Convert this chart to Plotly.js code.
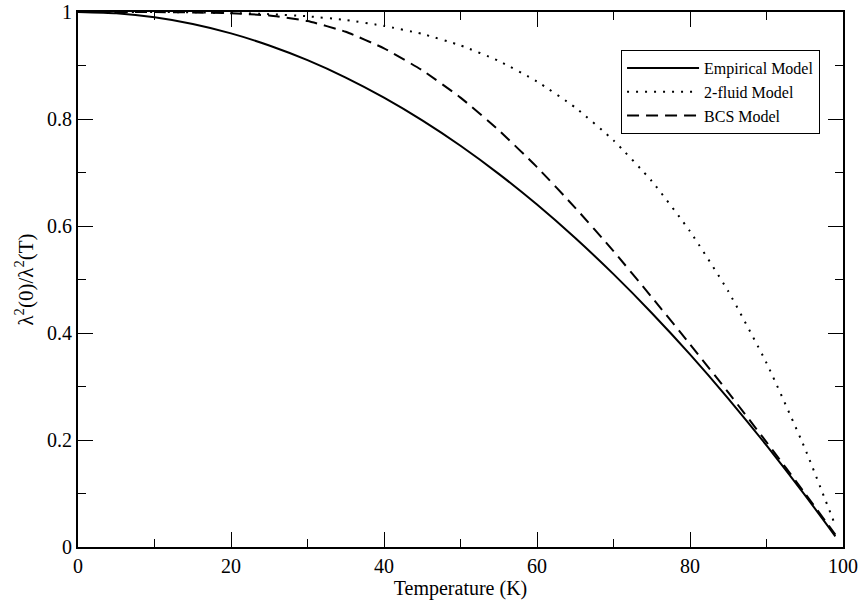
<!DOCTYPE html>
<html>
<head>
<meta charset="utf-8">
<script src="https://cdn.plot.ly/plotly-3.0.1.min.js"></script>
<style>html,body{margin:0;padding:0;background:#fff;}#chart{width:864px;height:603px;}</style>
</head>
<body>
<div id="chart"></div>
<script>
var temperature = [0, 5, 10, 15, 20, 25, 30, 35, 40, 45, 50, 55, 60, 65, 70, 75, 80, 85, 90, 95, 99];
var empirical = [1, 0.9975, 0.99, 0.9775, 0.96, 0.9375, 0.91, 0.8775, 0.84, 0.7975, 0.75, 0.6975, 0.64, 0.5775, 0.51, 0.4375, 0.36, 0.2775, 0.19, 0.0975, 0.02];
var twoFluid = [1, 1, 1, 0.9995, 0.998, 0.996, 0.992, 0.985, 0.974, 0.959, 0.9375, 0.9085, 0.87, 0.8215, 0.76, 0.684, 0.59, 0.478, 0.344, 0.185, 0.04];
var bcs = [1, 1, 0.9998, 0.9992, 0.9975, 0.9935, 0.983, 0.963, 0.932, 0.891, 0.84, 0.779, 0.71, 0.634, 0.553, 0.467, 0.379, 0.289, 0.196, 0.101, 0.023];
var seriesNames = ["Empirical Model", "2-fluid Model", "BCS Model"];
var xTicks = [0, 20, 40, 60, 80, 100];
var yTicks = [0, 0.2, 0.4, 0.6, 0.8, 1];
var yTickText = ["0", "0.2", "0.4", "0.6", "0.8", "1"];

var font = "'Liberation Serif', 'Times New Roman', Times, serif";
var traces = [
  {x: temperature, y: empirical, name: seriesNames[0], mode: "lines",
   line: {color: "#000", width: 2, shape: "spline", smoothing: 0.5}},
  {x: temperature, y: twoFluid, name: seriesNames[1], mode: "lines",
   line: {color: "#000", width: 2, dash: "2px,7px", shape: "spline", smoothing: 0.5}},
  {x: temperature, y: bcs, name: seriesNames[2], mode: "lines",
   line: {color: "#000", width: 2, dash: "12px,7px", shape: "spline", smoothing: 0.5}}
];

var axisCommon = {
  showgrid: false, zeroline: false, showline: true, linecolor: "#000", linewidth: 2,
  mirror: "allticks", ticks: "inside", ticklen: 15, tickwidth: 1, tickcolor: "#000",
  tickfont: {family: font, size: 20, color: "#000"}
};

var layout = {
  width: 864, height: 603,
  margin: {l: 78, r: 21, t: 12, b: 56},
  paper_bgcolor: "#fff", plot_bgcolor: "#fff",
  font: {family: font, color: "#000"},
  showlegend: true,
  legend: {x: 0.97, y: 0.929, xanchor: "right", yanchor: "top",
           bgcolor: "#fff", bordercolor: "#000", borderwidth: 1,
           itemwidth: 72,
           font: {family: font, size: 16, color: "#000"}, tracegroupgap: 0},
  xaxis: Object.assign({}, axisCommon, {
    range: [0, 100], tickmode: "array", tickvals: xTicks,
    minor: {ticks: "inside", ticklen: 8, tickwidth: 1, tickcolor: "#000", dtick: 10, tick0: 0, showgrid: false},
    title: {text: "Temperature (K)", font: {family: font, size: 20, color: "#000"}, standoff: 4}
  }),
  yaxis: Object.assign({}, axisCommon, {
    range: [0, 1], tickmode: "array", tickvals: yTicks, ticktext: yTickText,
    minor: {ticks: "inside", ticklen: 8, tickwidth: 1, tickcolor: "#000", dtick: 0.1, tick0: 0, showgrid: false},
    title: {text: "λ<sup>2</sup>(0)/λ<sup>2</sup>(T)", font: {family: font, size: 21, color: "#000"}, standoff: 8}
  })
};

Plotly.newPlot("chart", traces, layout, {displayModeBar: false, staticPlot: true});
</script>
</body>
</html>
